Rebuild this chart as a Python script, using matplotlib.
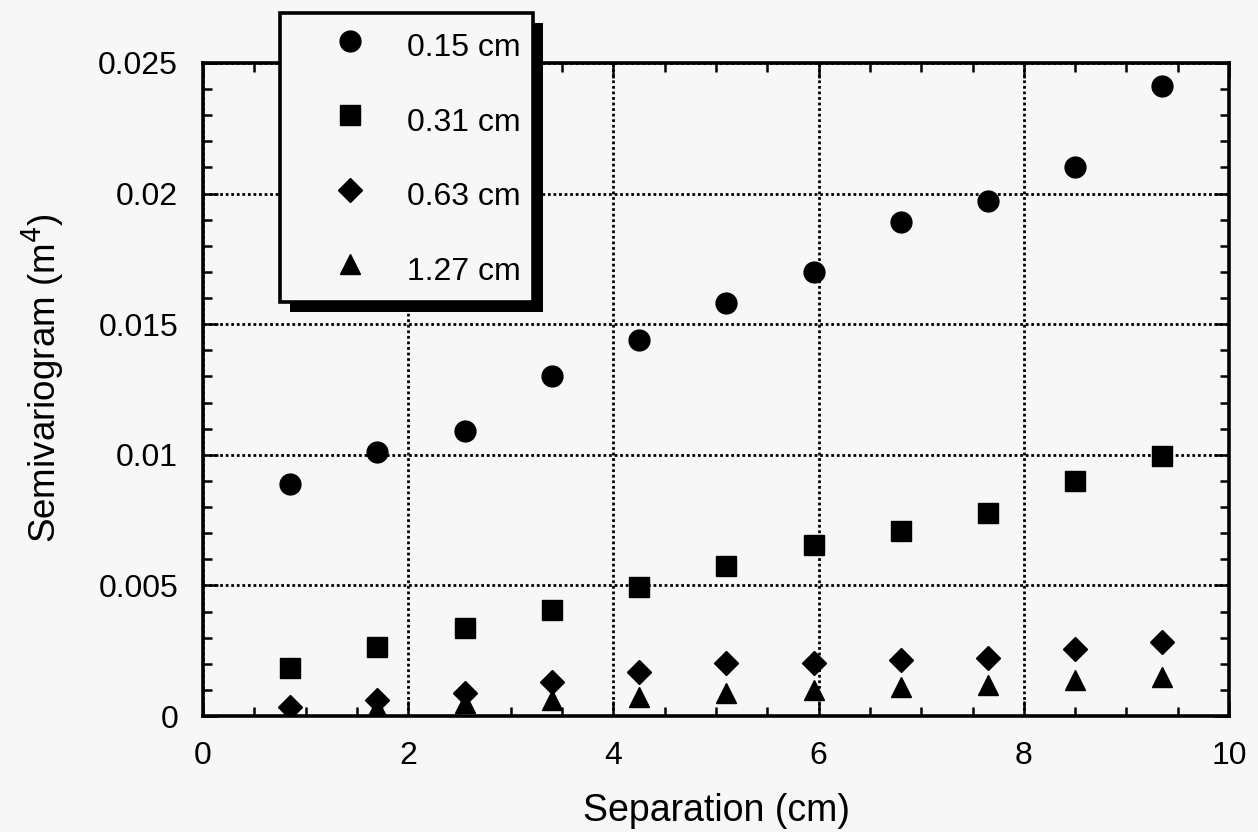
import matplotlib
matplotlib.use("Agg")
import matplotlib.pyplot as plt
from matplotlib.ticker import MultipleLocator
import matplotlib.patheffects as pe

plt.rcParams['font.family'] = ['Liberation Sans', 'DejaVu Sans']

separation = [0.85, 1.70, 2.55, 3.40, 4.25, 5.10, 5.95, 6.80, 7.65, 8.50, 9.35]
gamma_015 = [0.0089, 0.0101, 0.0109, 0.0130, 0.0144, 0.0158, 0.0170, 0.0189, 0.0197, 0.0210, 0.0241]
gamma_031 = [0.00184, 0.00264, 0.00337, 0.00406, 0.00494, 0.00574, 0.00655, 0.00708, 0.00777, 0.00900, 0.00995]
gamma_063 = [0.00034, 0.00060, 0.00090, 0.00130, 0.00170, 0.00204, 0.00204, 0.00214, 0.00223, 0.00256, 0.00285]
gamma_127 = [0.00015, 0.00030, 0.00050, 0.00060, 0.00074, 0.00088, 0.00100, 0.00110, 0.00120, 0.00138, 0.00150]
labels = ['0.15 cm', '0.31 cm', '0.63 cm', '1.27 cm']
xticks = [0, 2, 4, 6, 8, 10]
xticklabels = ['0', '2', '4', '6', '8', '10']
yticks = [0, 0.005, 0.01, 0.015, 0.02, 0.025]
yticklabels = ['0', '0.005', '0.01', '0.015', '0.02', '0.025']

fig = plt.figure(figsize=(12.58, 8.32), dpi=100, facecolor='#f7f7f7')
ax = fig.add_axes([0.1614, 0.1394, 0.8156, 0.7849])
ax.set_facecolor('#f7f7f7')

series = [(gamma_015, 'o', 15), (gamma_031, 's', 14.5), (gamma_063, 'D', 12), (gamma_127, '^', 14.5)]
for (vals, mk, ms), lab in zip(series, labels):
    ax.plot(separation, vals, linestyle='none', marker=mk, markersize=ms,
            color='black', label=lab, zorder=3)

ax.set_xlim(0, 10)
ax.set_ylim(0, 0.025)
ax.set_xticks(xticks)
ax.set_xticklabels(xticklabels)
ax.set_yticks(yticks)
ax.set_yticklabels(yticklabels)
ax.xaxis.set_minor_locator(MultipleLocator(0.5))
ax.yaxis.set_minor_locator(MultipleLocator(0.001))

ax.tick_params(which='both', direction='in', top=True, right=True, width=1.8, colors='black')
ax.tick_params(which='major', length=11, labelsize=23, pad=18)
ax.tick_params(which='minor', length=6.5)
for sp in ax.spines.values():
    sp.set_linewidth(2.6)

ax.grid(True, which='major', linestyle=(0, (1, 1)), linewidth=2.0, color='black', zorder=1)
ax.set_axisbelow(True)

ax.set_xlabel('Separation (cm)', fontsize=27, labelpad=16)
ax.set_ylabel('Semivariogram (m$^4$)', fontsize=26.5)
ax.yaxis.set_label_coords(-0.133, 0.518)

leg = ax.legend(loc='upper left', bbox_to_anchor=(0.2226, 0.9844), bbox_transform=fig.transFigure,
                borderaxespad=0, fontsize=23, frameon=True, fancybox=False,
                borderpad=0.38, handlelength=3.6, handleheight=1.6, handletextpad=0.0,
                labelspacing=1.05, edgecolor='black', facecolor='#f7f7f7', framealpha=1)
frame = leg.get_frame()
frame.set_linewidth(2.6)
frame.set_path_effects([pe.SimplePatchShadow(offset=(7, -7), shadow_rgbFace='black', alpha=1),
                        pe.Normal()])

fig.savefig('out.png', dpi=100, facecolor=fig.get_facecolor())
